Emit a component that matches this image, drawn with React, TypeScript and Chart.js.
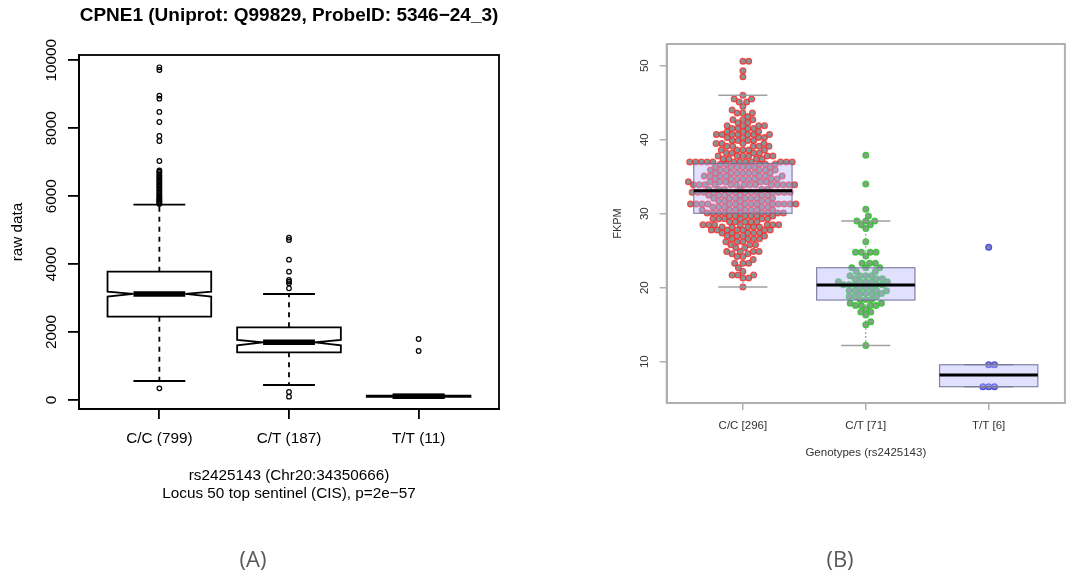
import { useEffect, useRef } from "react";
import { Chart, registerables } from "chart.js";
Chart.register(...registerables);

const FONT = "'Liberation Sans', Arial, sans-serif";

// ---------- Panel A data (raw data, notched boxplot) ----------
const titleA = "CPNE1 (Uniprot: Q99829, ProbeID: 5346\u221224_3)";
const groupsA = ["C/C (799)", "C/T (187)", "T/T (11)"];
const q1A = [2453, 1403, 95];
const medA = [3121, 1698, 110];
const q3A = [3778, 2139, 125];
const whiskLoA = [559, 442, 72];
const whiskHiA = [5751, 3121, 158];
const notchLoA = [3042, 1609, 97];
const notchHiA = [3189, 1766, 123];
const outCC = [343, 5770, 5800, 5830, 5860, 5890, 5920, 5950, 5990, 6030, 6070, 6110, 6150, 6190, 6230, 6270, 6310, 6350, 6390, 6430, 6470, 6510, 6550, 6590, 6630, 6680, 6720, 6760, 7036, 7625, 7772, 8184, 8479, 8871, 8960, 9715, 9794];
const outCT = [98, 236, 3288, 3435, 3485, 3533, 3778, 4132, 4710, 4779];
const outTT = [1443, 1796];
const yTicksA = [0, 2000, 4000, 6000, 8000, 10000];
const xTitleA = ["rs2425143 (Chr20:34350666)", "Locus 50 top sentinel (CIS), p=2e\u221257"];

// ---------- Panel B data (FKPM, beeswarm + boxplot) ----------
const groupsB = ["C/C [296]", "C/T [71]", "T/T [6]"];
const q1B = [30.05, 18.33, 6.62];
const medB = [33.1, 20.36, 8.2];
const q3B = [36.8, 22.7, 9.59];
const whiskLoB = [20.1, 12.2, 6.62];
const whiskHiB = [46.0, 29.0, 9.59];
const yTicksB = [10, 20, 30, 40, 50];

const ccValues = [20.1, 21.3, 21.7, 22.2, 22.7, 23.3, 23.8, 24.2, 24.6, 24.9, 25.4, 25.8, 26.2, 26.6, 27.0, 27.4, 27.8, 28.2, 28.5, 28.9, 29.3, 29.7, 30.1, 30.5, 30.9, 31.3, 31.7, 32.1, 32.5, 32.9, 33.3, 33.9, 34.3, 34.7, 35.1, 35.5, 35.9, 36.3, 36.7, 37.0, 37.4, 37.8, 38.2, 38.6, 39.1, 39.5, 39.9, 40.3, 40.7, 41.1, 41.5, 41.9, 42.3, 42.7, 43.1, 43.6, 44.0, 44.5, 45.1, 45.5, 46.0, 48.5, 49.3, 50.6];
const ccCounts = [1, 2, 3, 1, 1, 3, 1, 2, 2, 4, 2, 3, 3, 4, 4, 5, 7, 5, 7, 5, 6, 6, 9, 7, 6, 14, 5, 7, 6, 13, 6, 14, 6, 8, 7, 7, 6, 7, 5, 12, 4, 6, 4, 5, 5, 4, 4, 4, 7, 3, 4, 4, 2, 3, 1, 3, 1, 1, 2, 2, 1, 1, 1, 2];
const ctValues = [12.2, 15.0, 15.4, 16.3, 16.7, 17.1, 17.6, 17.9, 18.4, 18.8, 19.2, 19.6, 20.0, 20.4, 20.8, 21.2, 21.6, 22.2, 22.7, 23.3, 24.3, 24.8, 26.2, 28.0, 28.5, 29.0, 29.7, 30.6, 34.0, 37.9];
const ctCounts = [1, 1, 1, 1, 2, 1, 4, 2, 3, 3, 4, 4, 3, 5, 5, 3, 4, 2, 3, 3, 1, 4, 1, 1, 2, 3, 1, 1, 1, 1];
const ttValues = [6.62, 9.6, 25.45];
const ttCounts = [3, 2, 1];

const expand = (vals: number[], counts: number[], x: number) =>
  vals.flatMap((v, i) => Array.from({ length: counts[i] }, () => ({ x, y: v })));

function swarmOffsets(ys: number[], d: number): number[] {
  const idx = ys.map((_, i) => i).sort((a, b) => ys[b] - ys[a]);
  const xs = new Array(ys.length).fill(0);
  const placed: number[] = [];
  let balance = 0;
  for (const i of idx) {
    const y = ys[i];
    const near = placed.filter((j) => Math.abs(ys[j] - y) < d);
    const cands = [0];
    for (const j of near) {
      const dx = Math.sqrt(d * d - (ys[j] - y) ** 2);
      cands.push(xs[j] + dx, xs[j] - dx);
    }
    const ok = cands.filter((c) => near.every((j) => (xs[j] - c) ** 2 + (ys[j] - y) ** 2 >= d * d - 0.01));
    ok.sort((a, b) => {
      const diff = Math.round((Math.abs(a) - Math.abs(b)) * 1000);
      if (diff !== 0) return diff;
      return balance > 0 ? a - b : b - a;
    });
    const c = ok[0];
    xs[i] = c;
    balance += c;
    placed.push(i);
  }
  return xs;
}

const yLabelPlugin = (offset: number, size: number, color: string) => ({
  id: "yLabels",
  afterDraw(chart: any) {
    const ys = chart.scales.y;
    const ctx = chart.ctx;
    const x = chart.chartArea.left - offset;
    ctx.save();
    ctx.font = `${size}px ${FONT}`;
    ctx.fillStyle = color;
    ctx.textAlign = "center";
    ctx.textBaseline = "middle";
    ys.ticks.forEach((t: any) => {
      const y = ys.getPixelForValue(t.value);
      ctx.save();
      ctx.translate(x, y);
      ctx.rotate(-Math.PI / 2);
      ctx.fillText(String(t.value), 0, 0);
      ctx.restore();
    });
    ctx.restore();
  },
});

const frameA = {
  id: "frameA",
  beforeDatasetsDraw(chart: any) {
    const { ctx, chartArea: a } = chart;
    const xs = chart.scales.x;
    const ys = chart.scales.y;
    ctx.save();
    ctx.strokeStyle = "#000";
    ctx.lineWidth = 1.8;
    ctx.strokeRect(a.left, a.top, a.right - a.left, a.bottom - a.top);
    groupsA.forEach((_, i) => {
      const x = xs.getPixelForValue(i + 1);
      const hw = xs.getPixelForValue(i + 1.4) - x;
      const p = (v: number) => ys.getPixelForValue(v);
      ctx.lineWidth = 1.8;
      ctx.setLineDash([5, 5]);
      ctx.beginPath();
      ctx.moveTo(x, p(q3A[i]));
      ctx.lineTo(x, p(whiskHiA[i]));
      ctx.moveTo(x, p(q1A[i]));
      ctx.lineTo(x, p(whiskLoA[i]));
      ctx.stroke();
      ctx.setLineDash([]);
      ctx.beginPath();
      ctx.moveTo(x - hw / 2, p(whiskHiA[i]));
      ctx.lineTo(x + hw / 2, p(whiskHiA[i]));
      ctx.moveTo(x - hw / 2, p(whiskLoA[i]));
      ctx.lineTo(x + hw / 2, p(whiskLoA[i]));
      ctx.stroke();
      ctx.beginPath();
      ctx.moveTo(x - hw, p(q1A[i]));
      ctx.lineTo(x - hw, p(notchLoA[i]));
      ctx.lineTo(x - hw / 2, p(medA[i]));
      ctx.lineTo(x - hw, p(notchHiA[i]));
      ctx.lineTo(x - hw, p(q3A[i]));
      ctx.lineTo(x + hw, p(q3A[i]));
      ctx.lineTo(x + hw, p(notchHiA[i]));
      ctx.lineTo(x + hw / 2, p(medA[i]));
      ctx.lineTo(x + hw, p(notchLoA[i]));
      ctx.lineTo(x + hw, p(q1A[i]));
      ctx.closePath();
      ctx.fillStyle = "#fff";
      ctx.fill();
      ctx.stroke();
      ctx.lineWidth = 5.5;
      ctx.beginPath();
      ctx.moveTo(x - hw / 2, p(medA[i]));
      ctx.lineTo(x + hw / 2, p(medA[i]));
      ctx.stroke();
    });
    ctx.restore();
  },
};

const swarmPlugin = {
  id: "swarm",
  afterDatasetsUpdate(chart: any) {
    const xs = chart.scales.x;
    chart.data.datasets.forEach((ds: any, di: number) => {
      const meta = chart.getDatasetMeta(di);
      const ys = meta.data.map((el: any) => el.y);
      const offs = swarmOffsets(ys, 5.8);
      meta.data.forEach((el: any, i: number) => {
        el.x = xs.getPixelForValue(ds.data[i].x) + offs[i];
      });
    });
  },
};

const boxB = {
  id: "boxB",
  afterDatasetsDraw(chart: any) {
    const { ctx, chartArea: a } = chart;
    const xs = chart.scales.x;
    const ys = chart.scales.y;
    ctx.save();
    groupsB.forEach((_, i) => {
      const x = xs.getPixelForValue(i + 1);
      const hw = xs.getPixelForValue(i + 1.4) - x;
      const p = (v: number) => ys.getPixelForValue(v);
      ctx.strokeStyle = "rgba(150,150,150,0.9)";
      ctx.lineWidth = 1.2;
      ctx.setLineDash([2, 2]);
      ctx.beginPath();
      ctx.moveTo(x, p(q3B[i]));
      ctx.lineTo(x, p(whiskHiB[i]));
      ctx.moveTo(x, p(q1B[i]));
      ctx.lineTo(x, p(whiskLoB[i]));
      ctx.stroke();
      ctx.setLineDash([]);
      ctx.lineWidth = 1.5;
      ctx.beginPath();
      ctx.moveTo(x - hw / 2, p(whiskHiB[i]));
      ctx.lineTo(x + hw / 2, p(whiskHiB[i]));
      ctx.moveTo(x - hw / 2, p(whiskLoB[i]));
      ctx.lineTo(x + hw / 2, p(whiskLoB[i]));
      ctx.stroke();
      ctx.fillStyle = "rgba(180,180,255,0.4)";
      ctx.fillRect(x - hw, p(q3B[i]), 2 * hw, p(q1B[i]) - p(q3B[i]));
      ctx.strokeStyle = "rgba(110,110,150,0.85)";
      ctx.lineWidth = 1.2;
      ctx.strokeRect(x - hw, p(q3B[i]), 2 * hw, p(q1B[i]) - p(q3B[i]));
      ctx.strokeStyle = "#000";
      ctx.lineWidth = 3;
      ctx.beginPath();
      ctx.moveTo(x - hw, p(medB[i]));
      ctx.lineTo(x + hw, p(medB[i]));
      ctx.stroke();
    });
    ctx.strokeStyle = "#b0b0b0";
    ctx.lineWidth = 2;
    ctx.strokeRect(a.left, a.top, a.right - a.left, a.bottom - a.top);
    ctx.restore();
  },
};

export default function App() {
  const refA = useRef<HTMLCanvasElement>(null);
  const refB = useRef<HTMLCanvasElement>(null);

  useEffect(() => {
    document.body.style.margin = "0";
    document.body.style.overflow = "hidden";
    const outPts = [
      ...outCC.map((y) => ({ x: 1, y })),
      ...outCT.map((y) => ({ x: 2, y })),
      ...outTT.map((y) => ({ x: 3, y })),
    ];
    const chartA = new Chart(refA.current!, {
      type: "scatter",
      data: {
        datasets: [
          {
            data: outPts,
            pointRadius: 2.3,
            pointHoverRadius: 2.3,
            borderColor: "#000",
            backgroundColor: "rgba(0,0,0,0)",
            borderWidth: 1.2,
          },
        ],
      },
      options: {
        responsive: false,
        animation: false,
        events: [],
        layout: { padding: { left: 0, right: 79, top: 0, bottom: 0 } },
        plugins: {
          legend: { display: false },
          tooltip: { enabled: false },
          title: {
            display: true,
            text: titleA,
            fullSize: false,
            color: "#000",
            font: { family: FONT, size: 19, weight: "bold" },
            padding: { top: 4.6, bottom: 27.6 },
          },
        },
        scales: {
          x: {
            type: "linear",
            bounds: "data",
            min: 0.38,
            max: 3.62,
            afterBuildTicks: (s: any) => {
              s.ticks = [1, 2, 3].map((v) => ({ value: v }));
            },
            afterFit: (s: any) => {
              s.height = 166;
            },
            ticks: {
              autoSkip: false,
              maxRotation: 0,
              padding: 10.8,
              color: "#000",
              font: { family: FONT, size: 15.3 },
              callback: (v: any) => groupsA[Math.round(Number(v)) - 1] ?? "",
            },
            grid: { drawOnChartArea: false, drawTicks: true, tickLength: 10, color: "#000", lineWidth: 1.8 },
            border: { display: true, color: "#000", width: 1.8 },
            title: {
              display: true,
              text: xTitleA,
              color: "#000",
              font: { family: FONT, size: 15.3, lineHeight: 18 / 15.3 },
              padding: { top: 0, bottom: 72 },
            },
          },
          y: {
            type: "linear",
            bounds: "data",
            min: -265,
            max: 10156,
            afterBuildTicks: (s: any) => {
              s.ticks = yTicksA.map((v) => ({ value: v }));
            },
            afterFit: (s: any) => {
              s.width = 79;
            },
            ticks: { display: false },
            grid: { drawOnChartArea: false, drawTicks: true, tickLength: 11, color: "#000", lineWidth: 1.8 },
            border: { display: true, color: "#000", width: 1.8 },
            title: {
              display: true,
              text: "raw data",
              color: "#000",
              font: { family: FONT, size: 15.3 },
              padding: { top: 8.3, bottom: 0 },
            },
          },
        },
      } as any,
      plugins: [frameA, yLabelPlugin(27, 15.3, "#000")],
    });

    const ptStyle = (border: string, fill: string) => ({
      pointRadius: 2.9,
      pointHoverRadius: 2.9,
      borderColor: border,
      backgroundColor: fill,
      borderWidth: 1.2,
    });
    const chartB = new Chart(refB.current!, {
      type: "scatter",
      data: {
        datasets: [
          { data: expand(ccValues, ccCounts, 1), ...ptStyle("rgba(255,40,40,0.8)", "rgba(125,135,135,0.9)") },
          { data: expand(ctValues, ctCounts, 2), ...ptStyle("rgba(40,200,40,0.85)", "rgba(120,150,120,0.9)") },
          { data: expand(ttValues, ttCounts, 3), ...ptStyle("rgba(50,50,240,0.85)", "rgba(120,120,170,0.9)") },
        ],
      },
      options: {
        responsive: false,
        animation: false,
        events: [],
        layout: { padding: { left: 0, right: 0, top: 44, bottom: 0 } },
        plugins: { legend: { display: false }, tooltip: { enabled: false } },
        scales: {
          x: {
            type: "linear",
            bounds: "data",
            min: 0.38,
            max: 3.62,
            afterBuildTicks: (s: any) => {
              s.ticks = [1, 2, 3].map((v) => ({ value: v }));
            },
            afterFit: (s: any) => {
              s.height = 172;
            },
            ticks: {
              autoSkip: false,
              maxRotation: 0,
              padding: 9.1,
              color: "#333",
              font: { family: FONT, size: 11.5 },
              callback: (v: any) => groupsB[Math.round(Number(v)) - 1] ?? "",
            },
            grid: { drawOnChartArea: false, drawTicks: true, tickLength: 7, color: "#b0b0b0", lineWidth: 1.5 },
            border: { display: true, color: "#b0b0b0", width: 2 },
            title: {
              display: true,
              text: "Genotypes (rs2425143)",
              color: "#333",
              font: { family: FONT, size: 11.5 },
              padding: { top: 0, bottom: 115 },
            },
          },
          y: {
            type: "linear",
            bounds: "data",
            min: 4.42,
            max: 52.93,
            afterBuildTicks: (s: any) => {
              s.ticks = yTicksB.map((v) => ({ value: v }));
            },
            afterFit: (s: any) => {
              s.width = 88.7;
            },
            ticks: { display: false },
            grid: { drawOnChartArea: false, drawTicks: true, tickLength: 7, color: "#b0b0b0", lineWidth: 1.5 },
            border: { display: true, color: "#b0b0b0", width: 2 },
            title: {
              display: true,
              text: "FKPM",
              color: "#333",
              font: { family: FONT, size: 11 },
              padding: { top: 33, bottom: 0 },
            },
          },
        },
      } as any,
      plugins: [swarmPlugin, boxB, yLabelPlugin(21.7, 11.5, "#333")],
    });

    return () => {
      chartA.destroy();
      chartB.destroy();
    };
  }, []);

  const panelLabel = (text: string, cx: number) => (
    <div
      style={{
        position: "absolute",
        left: cx - 40,
        top: 540,
        width: 80,
        height: 36,
        lineHeight: "36px",
        textAlign: "center",
        fontFamily: "'Open Sans', 'Noto Sans', sans-serif",
        fontSize: 22,
        color: "#595959",
      }}
    >
      {text}
    </div>
  );

  return (
    <div style={{ position: "relative", width: 1067, height: 575, overflow: "hidden", background: "#fff" }}>
      <canvas ref={refA} width={578} height={575} style={{ position: "absolute", left: 0, top: 0, display: "block" }} />
      <canvas ref={refB} width={491} height={575} style={{ position: "absolute", left: 578, top: 0, display: "block" }} />
      {panelLabel("(A)", 253)}
      {panelLabel("(B)", 840)}
    </div>
  );
}
